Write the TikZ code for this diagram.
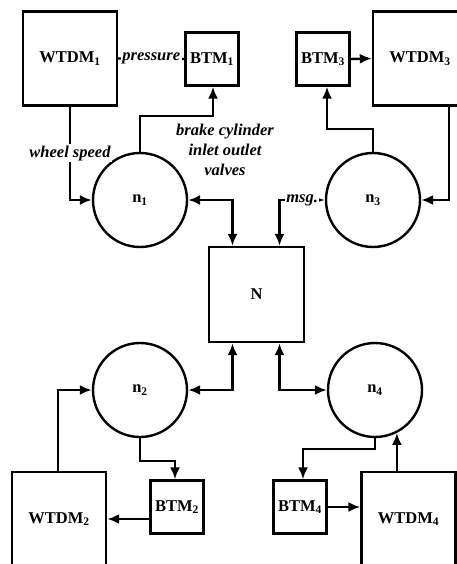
\documentclass[tikz,border=0pt]{standalone}
\usepackage{fontspec}
\setmainfont{Liberation Serif}
\usetikzlibrary{arrows.meta}
\newcommand{\diagfont}{\fontsize{16.5}{20}\selectfont}
\tikzset{
  wtdmbox/.style={rectangle, draw, line width=2.4pt, minimum width=94pt, minimum height=94pt, inner sep=0pt, font=\diagfont\bfseries},
  btmbox/.style={rectangle, draw, line width=2.4pt, minimum width=53pt, minimum height=53pt, inner sep=0pt, font=\diagfont\bfseries},
  hostcircle/.style={circle, draw, line width=2.4pt, minimum size=94pt, inner sep=0pt, font=\diagfont\bfseries},
  netbox/.style={rectangle, draw, line width=2.4pt, minimum width=95pt, minimum height=95pt, inner sep=0pt, font=\diagfont\bfseries},
  sigline/.style={line width=2.4pt},
  sigarrow/.style={-{Latex[length=12pt,width=10pt]}, line width=2.4pt},
  bisigarrow/.style={{Latex[length=12pt,width=10pt]}-{Latex[length=12pt,width=10pt]}, line width=2.4pt},
  siglabel/.style={fill=white, font=\diagfont\bfseries\itshape, inner sep=1.5pt},
}

\begin{document}
\begin{tikzpicture}[x=1pt,y=-1pt]
  \useasboundingbox (0,0) rectangle (457,564);
  \fill[white] (0,0) rectangle (457,564);
  \clip (0,0) rectangle (457,564);

  % upper half
  \node[wtdmbox] (wtdm1) at (70,58.5) {WTDM\textsubscript{1}};
  \node[btmbox] (btm1) at (212,59) {BTM\textsubscript{1}};
  \node[btmbox] (btm3) at (323,59) {BTM\textsubscript{3}};
  \node[wtdmbox] (wtdm3) at (420,58.5) {WTDM\textsubscript{3}};
  \node[hostcircle] (n1) at (140,200) {n\textsubscript{1}};
  \node[hostcircle] (n3) at (373,200) {n\textsubscript{3}};

  % network
  \node[netbox] (net) at (256.5,294.5) {N};

  % lower half
  \node[hostcircle] (n2) at (140,390) {n\textsubscript{2}};
  \node[hostcircle] (n4) at (375,390) {n\textsubscript{4}};
  \node[wtdmbox] (wtdm2) at (59,519) {WTDM\textsubscript{2}};
  \node[btmbox] (btm2) at (177,507) {BTM\textsubscript{2}};
  \node[btmbox] (btm4) at (300,507) {BTM\textsubscript{4}};
  \node[wtdmbox] (wtdm4) at (408.5,519) {WTDM\textsubscript{4}};

  \node[font=\diagfont\bfseries\itshape, align=center] (brakelbl) at (225,150) {brake cylinder\\inlet outlet\\valves};

  \draw[sigline] (wtdm1.east) -- node[siglabel] {pressure} (btm1.west);
  \draw[sigarrow] (wtdm1.south) |- node[siglabel, pos=0.25] {wheel speed} (n1.west);
  \draw[sigarrow] (n1.north) -- ++(0,-36) -| ([xshift=1pt]btm1.south);
  \draw[bisigarrow] (n1.east) -| ([xshift=-24pt]net.north);
  \draw[bisigarrow] ([xshift=23pt]net.north) |- node[siglabel, pos=0.75] {msg.} (n3.west);
  \draw[sigarrow] (n3.north) -- ++(0,-23) -| ([xshift=4pt]btm3.south);
  \draw[sigarrow] (btm3.east) -- (wtdm3.west);
  \draw[sigarrow] ([xshift=29pt]wtdm3.south) |- (n3.east);

  \draw[sigarrow] ([xshift=-1pt]wtdm2.north) |- (n2.west);
  \draw[sigarrow] (n2.south) -- ++(0,23) -| ([xshift=-2pt]btm2.north);
  \draw[sigarrow] (btm2.west |- wtdm2.east) -- (wtdm2.east);
  \draw[bisigarrow] (n2.east) -| ([xshift=-24pt]net.south);
  \draw[bisigarrow] ([xshift=23pt]net.south) |- (n4.west);
  \draw[sigarrow] (n4.south) -- ++(0,11) -| ([xshift=3pt]btm4.north);
  \draw[sigarrow] (btm4.east) -- (btm4.east -| wtdm4.west);
  \draw[sigarrow] (wtdm4.north -| n4.-63) -- (n4.-63);
\end{tikzpicture}
\end{document}
